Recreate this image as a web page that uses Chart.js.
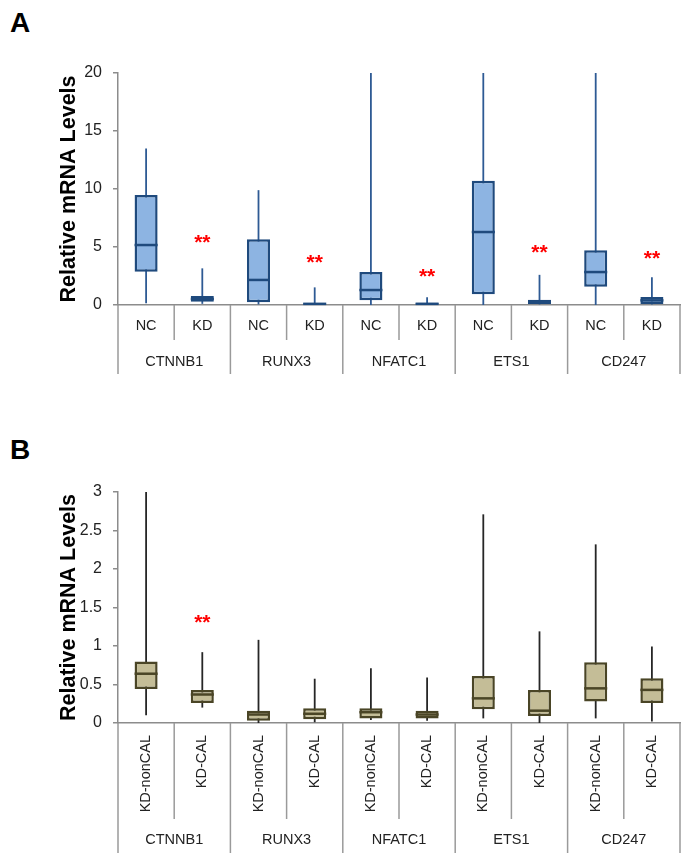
<!DOCTYPE html>
<html>
<head>
<meta charset="utf-8">
<script src="https://cdn.jsdelivr.net/npm/chart.js@4.4.1/dist/chart.umd.min.js"></script>
<style>
  body { margin: 0; background: #fff; width: 690px; height: 865px; position: relative; overflow: hidden; }
  canvas { position: absolute; left: 0; }
  #chartA { top: 0; }
  #chartB { top: 430px; }
  .panel { position: absolute; left: 10px; font: bold 28px 'Liberation Sans', Arial, sans-serif; line-height: 28px; color: #000; }
</style>
</head>
<body>
<div class="panel" style="top:9px">A</div>
<div class="panel" style="top:436px">B</div>
<canvas id="chartA" width="690" height="420"></canvas>
<canvas id="chartB" width="690" height="435"></canvas>
<script>
// Categories
const genes = ['CTNNB1', 'RUNX3', 'NFATC1', 'ETS1', 'CD247'];
const groupsA = ['NC', 'KD', 'NC', 'KD', 'NC', 'KD', 'NC', 'KD', 'NC', 'KD'];
const groupsB = ['KD-nonCAL', 'KD-CAL', 'KD-nonCAL', 'KD-CAL', 'KD-nonCAL', 'KD-CAL', 'KD-nonCAL', 'KD-CAL', 'KD-nonCAL', 'KD-CAL'];

// Panel A box plot values
const minA = [0.15, 0.1, 0.05, 0.02, 0, 0.02, 0, 0.05, 0, 0.05];
const q1A  = [2.87, 0.29, 0.23, 0.05, 0.4, 0.05, 0.92, 0.09, 1.58, 0.09];
const medA = [5.17, 0.52, 2.16, 0.1, 1.29, 0.1, 6.29, 0.27, 2.84, 0.4];
const q3A  = [9.48, 0.78, 5.66, 0.15, 2.84, 0.2, 10.72, 0.46, 4.71, 0.69];
const maxA = [13.5, 3.16, 9.9, 1.52, 20, 0.66, 20, 2.6, 20, 2.39];
const starsA = [null, 5.9, null, 4.1, null, 2.96, null, 5.0, null, 4.45];
const ticksA = [0, 5, 10, 15, 20];

// Panel B box plot values
const minB = [0.1, 0.2, 0, 0.01, 0.04, 0.03, 0.06, 0, 0.06, 0.02];
const q1B  = [0.44, 0.26, 0.03, 0.05, 0.06, 0.06, 0.18, 0.09, 0.28, 0.26];
const medB = [0.64, 0.37, 0.11, 0.12, 0.14, 0.11, 0.32, 0.16, 0.45, 0.43];
const q3B  = [0.80, 0.43, 0.16, 0.19, 0.19, 0.16, 0.61, 0.43, 0.79, 0.58];
const maxB = [3.0, 0.92, 1.08, 0.575, 0.71, 0.59, 2.71, 1.19, 2.32, 0.995];
const starsB = [null, 1.38, null, null, null, null, null, null, null, null];
const ticksB = [0, 0.5, 1, 1.5, 2, 2.5, 3];

const SANS = "'Liberation Sans', Arial, sans-serif";
const NARROW = "'Liberation Sans Narrow', 'Arial Narrow', " + SANS;

// Whiskers, medians, stars and the two-level category axis
const boxParts = {
    id: 'boxParts',
    beforeDatasetsDraw(chart, args, o) {
        const ctx = chart.ctx, y = chart.scales.y, area = chart.chartArea;
        const bars = chart.getDatasetMeta(0).data;
        ctx.save();
        ctx.beginPath();
        ctx.rect(area.left, area.top - 1, area.right - area.left, area.bottom - area.top + 1);
        ctx.clip();
        ctx.strokeStyle = o.whiskerColor;
        ctx.lineWidth = 1.8;
        bars.forEach((bar, i) => {
            const x = bar.x;
            ctx.beginPath();
            ctx.moveTo(x, y.getPixelForValue(o.min[i]));
            ctx.lineTo(x, y.getPixelForValue(o.max[i]));
            ctx.stroke();
        });
        ctx.restore();
    },
    afterDatasetsDraw(chart, args, o) {
        const ctx = chart.ctx, y = chart.scales.y;
        const bars = chart.getDatasetMeta(0).data;
        ctx.save();
        ctx.strokeStyle = o.boxBorder;
        ctx.lineWidth = 2.5;
        bars.forEach((bar, i) => {
            const py = y.getPixelForValue(o.med[i]);
            ctx.beginPath();
            ctx.moveTo(bar.x - bar.width / 2, py);
            ctx.lineTo(bar.x + bar.width / 2, py);
            ctx.stroke();
        });
        // significance stars
        ctx.fillStyle = '#ff0000';
        ctx.font = 'bold 21px ' + SANS;
        ctx.textAlign = 'center';
        ctx.textBaseline = 'alphabetic';
        bars.forEach((bar, i) => {
            if (o.stars[i] == null) return;
            ctx.fillText('**', bar.x, y.getPixelForValue(o.stars[i]) + 12);
        });
        ctx.restore();
    },
    afterDraw(chart, args, o) {
        const ctx = chart.ctx, x = chart.scales.x, area = chart.chartArea;
        const n = x.getLabels().length;
        const base = area.bottom;
        ctx.save();
        ctx.strokeStyle = '#9a9a9a';
        ctx.lineWidth = 1.5;
        for (let i = 0; i <= n; i++) {
            let px;
            if (i === 0) px = area.left;
            else if (i === n) px = area.right;
            else px = (x.getPixelForValue(i - 1) + x.getPixelForValue(i)) / 2;
            const len = i % 2 === 0 ? o.outerLen : o.innerLen;
            ctx.beginPath();
            ctx.moveTo(px, base);
            ctx.lineTo(px, base + len);
            ctx.stroke();
        }
        ctx.fillStyle = '#222';
        ctx.font = '14.5px ' + SANS;
        ctx.textAlign = 'center';
        ctx.textBaseline = 'middle';
        genes.forEach((g, k) => {
            const cx = (x.getPixelForValue(2 * k) + x.getPixelForValue(2 * k + 1)) / 2;
            ctx.fillText(g, cx, base + o.geneY);
        });
        ctx.restore();
    }
};

function makeChart(id, opt) {
    return new Chart(document.getElementById(id), {
        type: 'bar',
        data: {
            labels: opt.labels,
            datasets: [{
                data: opt.q1.map((v, i) => [v, opt.q3[i]]),
                backgroundColor: opt.fill,
                borderColor: opt.border,
                borderWidth: 2.5,
                borderSkipped: false,
                barPercentage: 0.41,
                categoryPercentage: 1
            }]
        },
        options: {
            responsive: false,
            animation: false,
            devicePixelRatio: 1,
            layout: { padding: opt.padding },
            plugins: {
                legend: { display: false },
                tooltip: { enabled: false },
                boxParts: {
                    min: opt.min, med: opt.med, max: opt.max, stars: opt.stars,
                    whiskerColor: opt.whisker, boxBorder: opt.border,
                    innerLen: opt.innerLen, outerLen: opt.outerLen, geneY: opt.geneY
                }
            },
            scales: {
                x: {
                    offset: true,
                    grid: { display: false, drawTicks: false, tickLength: 0 },
                    border: { color: '#8c8c8c', width: 1.5 },
                    ticks: {
                        autoSkip: false,
                        minRotation: opt.rot, maxRotation: opt.rot,
                        padding: opt.xPad,
                        color: '#222',
                        font: { family: SANS, size: 14.5 }
                    },
                    afterFit: s => { s.height = opt.xHeight; }
                },
                y: {
                    min: opt.ticks[0],
                    max: opt.ticks[opt.ticks.length - 1],
                    afterBuildTicks: s => { s.ticks = opt.ticks.map(v => ({ value: v })); },
                    grid: { drawOnChartArea: false, drawTicks: true, tickLength: 5, color: '#8c8c8c', lineWidth: 1.5 },
                    border: { color: '#8c8c8c', width: 1.5 },
                    ticks: {
                        padding: 11,
                        color: '#222',
                        font: { family: NARROW, size: 16 },
                        callback: v => String(v)
                    },
                    title: {
                        display: true,
                        text: 'Relative mRNA Levels',
                        color: '#000',
                        font: { family: SANS, size: 21.5, weight: 'bold' },
                        padding: { top: 56, bottom: 0 }
                    },
                    afterFit: s => { s.width = 118; }
                }
            }
        },
        plugins: [boxParts]
    });
}

makeChart('chartA', {
    labels: groupsA, q1: q1A, q3: q3A, min: minA, med: medA, max: maxA, stars: starsA, ticks: ticksA,
    fill: '#8db4e2', border: '#1f4a7d', whisker: '#2e5a94',
    padding: { top: 73, left: 0, right: 10, bottom: 42 },
    xHeight: 73, xPad: 12, rot: 0, innerLen: 35, outerLen: 69, geneY: 57
});

makeChart('chartB', {
    labels: groupsB, q1: q1B, q3: q3B, min: minB, med: medB, max: maxB, stars: starsB, ticks: ticksB,
    fill: '#c4bd97', border: '#4a4526', whisker: '#262626',
    padding: { top: 62, left: 0, right: 10, bottom: 12 },
    xHeight: 130, xPad: 12, rot: 90, innerLen: 96, outerLen: 130, geneY: 117
});
</script>
</body>
</html>
